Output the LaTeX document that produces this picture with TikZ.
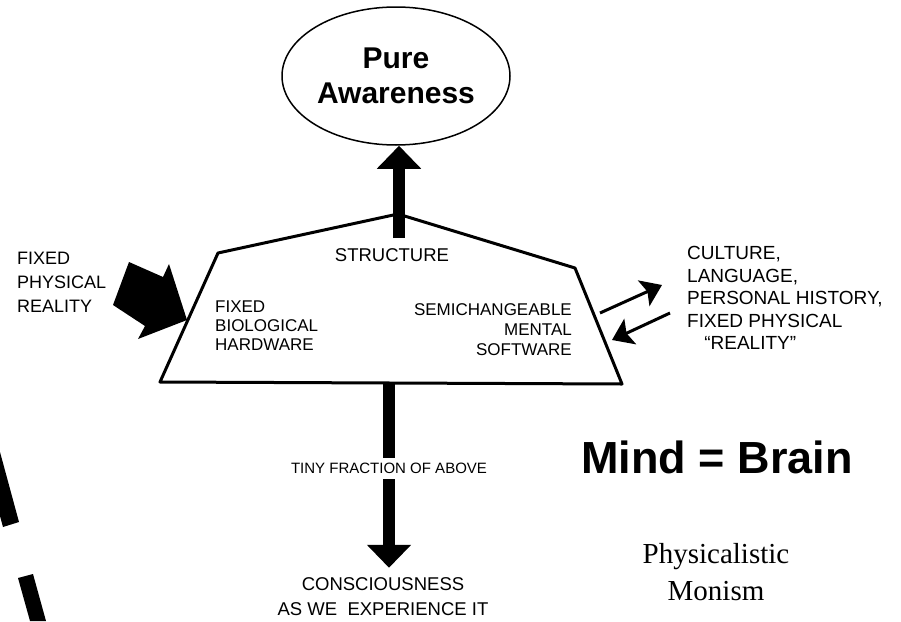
\documentclass[tikz,border=0pt]{standalone}
\usepackage{fontspec}
\setmainfont{Liberation Sans}
\newfontfamily\serifface{Liberation Serif}
\usetikzlibrary{arrows.meta,shapes.geometric}

\tikzset{
  caps/.style={inner sep=0pt},
  fatflow/.style={line width=12pt,-{Triangle[length=23pt,width=43pt]}},
  thinflow/.style={line width=3pt,-{Stealth[length=20pt,width=28pt,inset=4pt]}},
}

\begin{document}
\begin{tikzpicture}[x=1pt,y=-1pt]
    \useasboundingbox (0,0) rectangle (901,621);
    \draw[line width=3pt,line join=round] (218,253) -- (398,214) -- (575,268) -- (622,384) -- (160,382) -- cycle;
    \node[ellipse,draw,line width=1.5pt,minimum width=228pt,minimum height=138pt,inner sep=0pt,align=center,font=\bfseries\fontsize{30}{35}\selectfont] (pa) at (396,76) {Pure\\Awareness};
    \node[caps,align=left,anchor=west,font=\fontsize{18}{24}\selectfont] (fpr) at (17,282) {FIXED\\PHYSICAL\\REALITY};
    \node[caps,align=left,anchor=west,font=\fontsize{19}{22.5}\selectfont] (cult) at (687,298) {CULTURE,\\LANGUAGE,\\PERSONAL HISTORY,\\FIXED PHYSICAL\\\hspace*{0.9em}``REALITY''};
    \node[caps,align=left,anchor=west,font=\fontsize{17}{19}\selectfont] (hw) at (215,326) {FIXED\\BIOLOGICAL\\HARDWARE};
    \node[caps,align=right,anchor=east,font=\fontsize{17}{20}\selectfont] (sw) at (572,330) {SEMICHANGEABLE\\MENTAL\\SOFTWARE};
    \node[caps,font=\fontsize{18.5}{22}\selectfont] (struct) at (392,255) {STRUCTURE};
    \node[caps,align=center,font=\fontsize{18.5}{25}\selectfont] (conc) at (383,597) {CONSCIOUSNESS\\AS WE\ \ EXPERIENCE IT};
    \node[inner sep=0pt,font=\bfseries\fontsize{45}{50}\selectfont] (mb) at (717,457) {Mind = Brain};
    \node[inner sep=0pt,align=center,font=\serifface\fontsize{29}{37}\selectfont] (pm) at (716,572) {Physicalistic\\Monism};
    \fill (129,262) -- (163,277) -- (169,264) -- (187,320) -- (138,339) -- (145,326) -- (113,305) -- cycle;
    \fill (0,452) -- (19,522) -- (3,527) -- (0,516) -- cycle;
    \fill (18,578) -- (33,574) -- (46,621) -- (30,621) -- cycle;
    \coordinate (stem) at (399,238);
    \coordinate (base) at (389,383);
    \draw[fatflow] (stem) -- (stem |- pa.south);
    \draw[fatflow,shorten >=10pt] (base) -- (base |- conc.north) node[pos=0.44,fill=white,inner xsep=2pt,inner ysep=5pt,font=\fontsize{15}{18}\selectfont] (tiny) {TINY FRACTION OF ABOVE};
    \coordinate (swout) at (600,313);
    \coordinate (cultin) at (662,285);
    \coordinate (cultout) at (670,313);
    \coordinate (swin) at (612,340);
    \draw[thinflow] (swout) -- (cultin);
    \draw[thinflow] (cultout) -- (swin);
\end{tikzpicture}
\end{document}
